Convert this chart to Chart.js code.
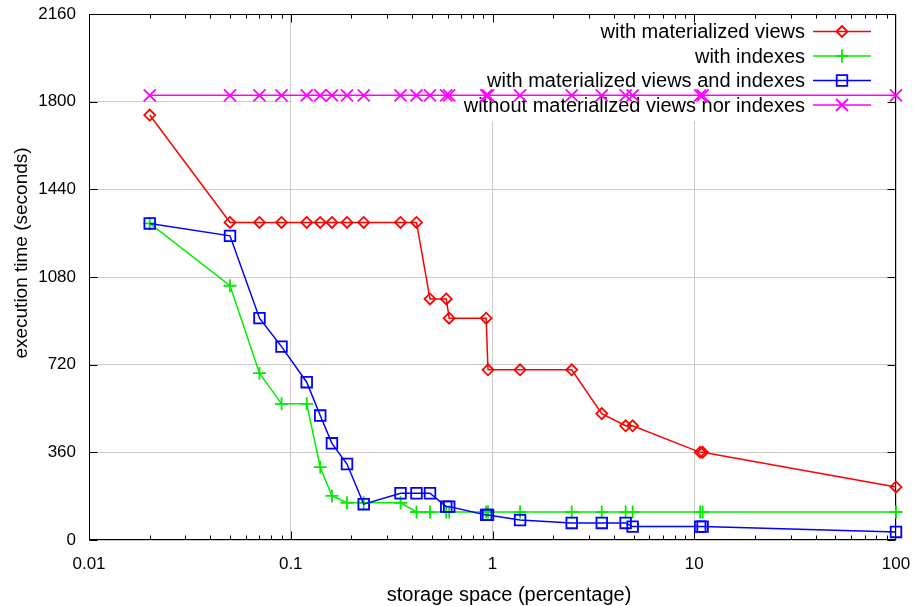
<!DOCTYPE html>
<html><head><meta charset="utf-8">
<script src="https://cdn.jsdelivr.net/npm/chart.js@4/dist/chart.umd.min.js"></script>
<style>html,body{margin:0;padding:0;background:#fff}#wrap{width:913px;height:606px}</style>
</head><body><div id="wrap"><canvas id="c" width="913" height="606"></canvas></div>
<script>
// ---- data ----
const storageSpace = [0.02, 0.05, 0.07, 0.09, 0.12, 0.14, 0.16, 0.19, 0.23, 0.35, 0.42, 0.49,
  0.59, 0.61, 0.93, 0.95, 1.37, 2.47, 3.48, 4.57, 4.95, 10.7, 11, 100];
const withMaterializedViews = [1745, 1304, 1304, 1304, 1304, 1304, 1304, 1304, 1304, 1304, 1304, 990,
  990, 911, 911, 699, 699, 699, 519, 469, 469, 360, 360, 218];
const withIndexes = [1300, 1044, 685, 559, 559, 299, 181, 153, 153, 153, 115, 115,
  115, 115, 115, 115, 115, 115, 115, 115, 115, 115, 115, 115];
const withViewsAndIndexes = [1300, 1249, 911, 794, 648, 511, 397, 312, 147, 192, 192, 192,
  137, 137, 103, 103, 82, 70, 70, 70, 55, 55, 55, 33];
const withoutViewsNorIndexes = [1826, 1826, 1826, 1826, 1826, 1826, 1826, 1826, 1826, 1826, 1826, 1826,
  1826, 1826, 1826, 1826, 1826, 1826, 1826, 1826, 1826, 1826, 1826, 1826];
const seriesNames = ['with materialized views', 'with indexes',
  'with materialized views and indexes', 'without materialized views nor indexes'];
const xTickValues = [0.01, 0.1, 1, 10, 100];
const yTickValues = [0, 360, 720, 1080, 1440, 1800, 2160];
const xTitle = 'storage space (percentage)';
const yTitle = 'execution time (seconds)';

const FONT = '"Liberation Sans", Arial, sans-serif';
const colors = ['#ff0000', '#00ee00', '#0000ff', '#ff00ff'];
const styles = ['rectRot', 'cross', 'rect', 'crossRot'];
const radii = [5.5, 6.5, 7.5, 8.5];
const seriesValues = [withMaterializedViews, withIndexes, withViewsAndIndexes, withoutViewsNorIndexes];

const datasets = seriesValues.map((vals, i) => ({
  label: seriesNames[i],
  data: storageSpace.map((x, j) => ({x: x, y: vals[j]})),
  borderColor: colors[i],
  backgroundColor: 'rgba(0,0,0,0)',
  pointBorderColor: colors[i],
  pointBackgroundColor: 'rgba(0,0,0,0)',
  pointStyle: styles[i],
  pointRadius: radii[i],
  pointBorderWidth: 1.8,
  borderWidth: 1.5,
  tension: 0,
  clip: false,
  order: 4 - i
}));

const noPad = s => { s.paddingTop = 0; s.paddingRight = 0; s.paddingLeft = 0; s.paddingBottom = 0; };

const framePlugin = {
  id: 'frame',
  beforeDatasetsDraw(chart) {
    const {ctx, chartArea: a, scales: {x, y}} = chart;
    ctx.save();
    // key background
    ctx.fillStyle = '#ffffff';
    ctx.fillRect(a.left + 203, a.top + 1, a.right - a.left - 204, 106);
    // border
    ctx.strokeStyle = '#000';
    ctx.lineWidth = 1;
    const L = Math.round(a.left) + 0.5, R = Math.round(a.right) - 0.5,
          T = Math.round(a.top) + 0.5, B = Math.round(a.bottom) - 0.5;
    ctx.strokeRect(L, T, R - L, B - T);
    ctx.beginPath();
    yTickValues.forEach(v => {
      const py = Math.round(y.getPixelForValue(v)) + 0.5;
      ctx.moveTo(L, py); ctx.lineTo(L + 8, py);
      ctx.moveTo(R, py); ctx.lineTo(R - 8, py);
    });
    for (let e = -2; e <= 1; e++) {
      for (let k = 1; k <= 9; k++) {
        const v = k * Math.pow(10, e);
        const px = Math.round(x.getPixelForValue(v)) + 0.5;
        const len = k === 1 ? 8 : 4;
        ctx.moveTo(px, B); ctx.lineTo(px, B - len);
        ctx.moveTo(px, T); ctx.lineTo(px, T + len);
      }
    }
    ctx.stroke();
    // key
    ctx.font = '20px ' + FONT;
    ctx.textAlign = 'right';
    ctx.textBaseline = 'middle';
    seriesNames.forEach((name, i) => {
      const yy = a.top + 17.5 + i * 24.5;
      ctx.fillStyle = '#000';
      ctx.fillText(name, a.right - 91, yy + 1);
      ctx.strokeStyle = colors[i];
      ctx.lineWidth = 1.5;
      ctx.beginPath();
      ctx.moveTo(a.right - 83, yy); ctx.lineTo(a.right - 25, yy);
      ctx.stroke();
      ctx.fillStyle = 'rgba(0,0,0,0)';
      ctx.lineWidth = 1.8;
      Chart.helpers.drawPoint(ctx, {pointStyle: styles[i], radius: radii[i], borderWidth: 1.8, rotation: 0},
        a.right - 54, yy);
    });
    ctx.restore();
  },
  afterDraw(chart) {
    const {ctx} = chart;
    ctx.save();
    ctx.fillStyle = '#000';
    ctx.font = '20px ' + FONT;
    ctx.textAlign = 'center';
    ctx.textBaseline = 'alphabetic';
    ctx.fillText(xTitle, 509, 601);
    ctx.translate(27, 253);
    ctx.rotate(-Math.PI / 2);
    ctx.font = '19px ' + FONT;
    ctx.fillText(yTitle, 0, 0);
    ctx.restore();
  }
};

new Chart(document.getElementById('c'), {
  type: 'line',
  data: {datasets},
  plugins: [framePlugin],
  options: {
    responsive: false,
    animation: false,
    devicePixelRatio: 1,
    layout: {padding: {top: 14, right: 17, left: 0, bottom: 0}},
    plugins: {legend: {display: false}, tooltip: {enabled: false}},
    scales: {
      x: {
        type: 'logarithmic',
        min: 0.01, max: 100,
        afterBuildTicks: s => { s.ticks = xTickValues.map(v => ({value: v})); },
        afterFit: s => { s.height = 66; noPad(s); },
        ticks: {
          autoSkip: false, maxRotation: 0, padding: 14, color: '#000',
          font: {family: FONT, size: 17},
          callback: v => String(v)
        },
        grid: {color: '#cccccc', lineWidth: 1, drawTicks: false},
        border: {display: false}
      },
      y: {
        type: 'linear',
        min: 0, max: 2160,
        afterBuildTicks: s => { s.ticks = yTickValues.map(v => ({value: v})); },
        afterFit: s => { s.width = 89; noPad(s); },
        ticks: {
          padding: 13, color: '#000',
          font: {family: FONT, size: 17},
          callback: v => String(v)
        },
        grid: {color: '#cccccc', lineWidth: 1, drawTicks: false},
        border: {display: false}
      }
    }
  }
});
</script>
</body></html>
